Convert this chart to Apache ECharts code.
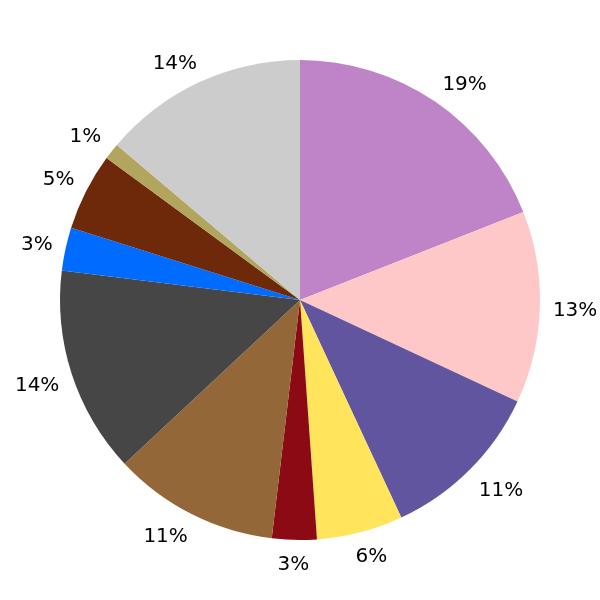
<!DOCTYPE html>
<html>
<head>
<meta charset="utf-8">
<script src="https://cdn.jsdelivr.net/npm/echarts@6/dist/echarts.min.js"></script>
<style>html,body{margin:0;padding:0;background:#fff}#c{width:600px;height:600px}</style>
</head>
<body>
<div id="c"></div>
<script>
const categories = ['A','B','C','D','E','F','G','H','I','J','K'];
const values = [19.0, 12.9, 11.1, 5.8, 3.0, 11.15, 13.9, 2.9, 5.2, 1.1, 13.8];
const colors = ['#bf83c8','#ffc8c8','#6155a0','#ffe45c','#8b0a14','#946739','#464646','#006cff','#6e280a','#b2a55e','#cccccc'];

const CX = 300, CY = 300, R = 240, GAP = 253, HALF_H = 9, DY = 2.5;
const total = values.reduce((a,b)=>a+b,0);
const midAngles = [];
let acc = 0;
values.forEach(v => { midAngles.push((acc + v/2) / total * 2 * Math.PI); acc += v; });
const clamp = v => Math.max(-1, Math.min(1, v));

const chart = echarts.init(document.getElementById('c'));
chart.setOption({
  animation: false,
  series: [{
    type: 'pie',
    center: [CX, CY],
    radius: R,
    startAngle: 90,
    clockwise: true,
    avoidLabelOverlap: false,
    data: categories.map((n,i)=>({name:n, value:values[i], itemStyle:{color:colors[i]}})),
    itemStyle: {borderWidth: 0},
    label: {
      show: true,
      position: 'outside',
      formatter: p => Math.round(p.percent) + '%',
      fontFamily: 'DejaVu Sans',
      fontSize: 20,
      color: '#000'
    },
    labelLine: {show: false, length: 10, length2: 0},
    emphasis: {disabled: true},
    labelLayout: function (p) {
      const a = midAngles[p.dataIndex];
      const ux = Math.sin(a), uy = -Math.cos(a);
      const w = p.labelRect.width;
      const x = CX + ux*GAP + clamp(ux*2)*w/2;
      const y = CY + uy*GAP + clamp(uy*2)*HALF_H + DY;
      return {x: x, y: y, align: 'center', verticalAlign: 'middle'};
    }
  }]
});
</script>
</body>
</html>
